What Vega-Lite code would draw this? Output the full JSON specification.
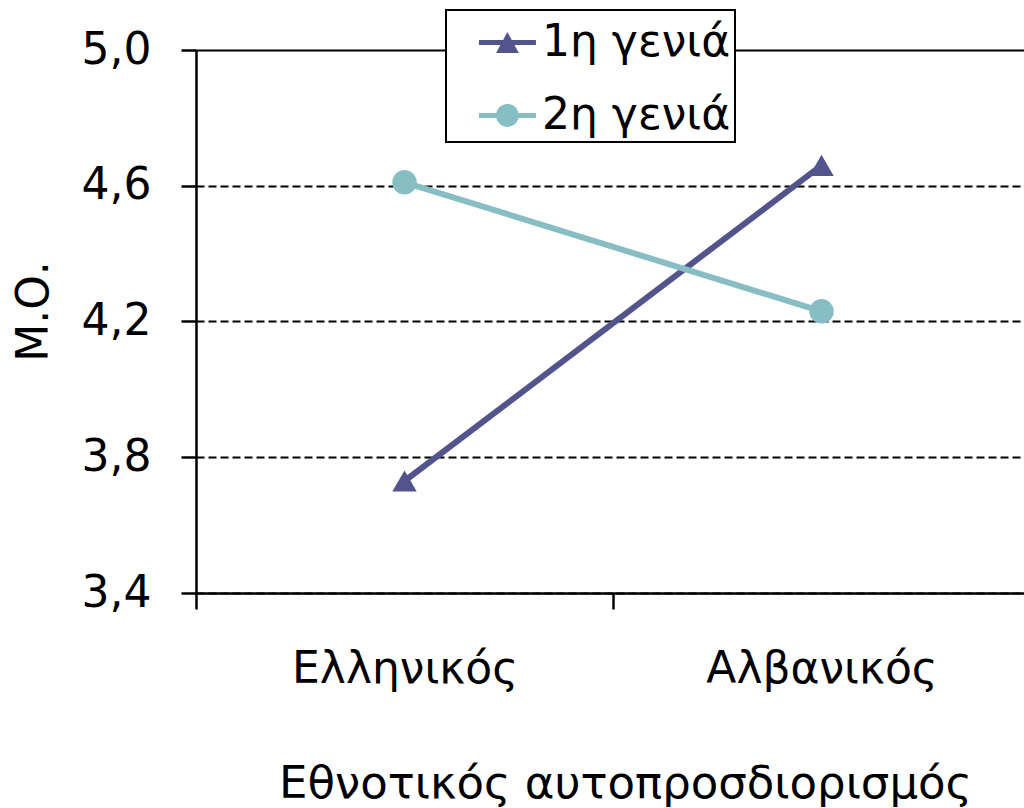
{
  "$schema": "https://vega.github.io/schema/vega-lite/v6.json",
  "width": 828,
  "height": 543,
  "autosize": {"type": "none"},
  "padding": {"left": 196, "top": 50, "right": 0, "bottom": 215},
  "background": "white",
  "config": {"view": {"stroke": null}, "font": "DejaVu Sans"},
  "data": {
    "values": [
      {"ident": "Ελληνικός", "gen": "1η γενιά", "mean": 3.73},
      {"ident": "Αλβανικός", "gen": "1η γενιά", "mean": 4.66},
      {"ident": "Ελληνικός", "gen": "2η γενιά", "mean": 4.61},
      {"ident": "Αλβανικός", "gen": "2η γενιά", "mean": 4.23}
    ]
  },
  "encoding": {
    "x": {
      "field": "ident",
      "type": "nominal",
      "sort": ["Ελληνικός", "Αλβανικός"],
      "scale": {"type": "band", "paddingInner": 0, "paddingOuter": 0, "range": [0, 834]},
      "axis": {
        "title": "Εθνοτικός αυτοπροσδιορισμός",
        "tickBand": "extent",
        "labelAngle": 0,
        "labelFontSize": 44,
        "labelColor": "black",
        "labelPadding": 38,
        "labelLimit": 400,
        "tickSize": 16,
        "tickWidth": 2.5,
        "tickColor": "black",
        "domainColor": "black",
        "domainWidth": 2.5,
        "grid": false,
        "titleFontSize": 45,
        "titleFontWeight": "normal",
        "titleColor": "black",
        "titleLimit": 1000,
        "titleX": 429,
        "titleY": 204,
        "titleAlign": "center",
        "titleBaseline": "alphabetic"
      }
    },
    "y": {
      "field": "mean",
      "type": "quantitative",
      "scale": {"domain": [3.4, 5.0], "nice": false, "zero": false},
      "axis": {
        "title": "Μ.Ο.",
        "values": [3.4, 3.8, 4.2, 4.6, 5.0],
        "labelExpr": "replace(format(datum.value, '.1f'), '.', ',')",
        "labelFontSize": 44,
        "labelColor": "black",
        "labelPadding": 30,
        "tickSize": 15,
        "tickWidth": 2.5,
        "tickColor": "black",
        "domainColor": "black",
        "domainWidth": 2.5,
        "grid": true,
        "gridColor": "black",
        "gridWidth": 2,
        "gridOpacity": 1,
        "gridDash": {"condition": {"test": "datum.value >= 4.99", "value": []}, "value": [8, 4]},
        "titleFontSize": 44,
        "titleFontWeight": "normal",
        "titleColor": "black",
        "titleAngle": -90,
        "titleX": -149,
        "titleY": 261,
        "titleAlign": "center",
        "titleBaseline": "alphabetic"
      }
    },
    "color": {
      "field": "gen",
      "type": "nominal",
      "scale": {"domain": ["1η γενιά", "2η γενιά"], "range": ["#54548C", "#86BEC4"]},
      "legend": {
        "orient": "none",
        "legendX": 250,
        "legendY": -40,
        "title": null,
        "padding": 4,
        "strokeColor": "black",
        "fillColor": "white",
        "labelFontSize": 44,
        "labelColor": "black",
        "labelOffset": 35,
        "labelLimit": 400,
        "symbolSize": 3249,
        "symbolStrokeWidth": 0,
        "rowPadding": 22,
        "encode": {
          "legend": {"update": {"strokeWidth": {"value": 2}}},
          "entries": {"update": {"width": {"value": 304}}},
          "symbols": {
            "update": {
              "shape": {"signal": "datum.value === '1η γενιά' ? 'M0.015,-0.088H2.015V0.088H0.015Z M0.615,0.37L1.015,-0.37L1.415,0.37Z' : 'M0.015,-0.088H2.015V0.088H0.015Z M0.615,0A0.4,0.4 0 1,1 1.415,0A0.4,0.4 0 1,1 0.615,0Z'"},
              "fill": {"signal": "scale('color', datum.value)"},
              "strokeWidth": {"value": 0},
              "opacity": {"value": 1}
            }
          }
        }
      }
    }
  },
  "layer": [
    {"mark": {"type": "line", "strokeWidth": 6}},
    {
      "transform": [{"filter": "datum.gen === '1η γενιά'"}],
      "mark": {"type": "point", "filled": true, "size": 600, "opacity": 1, "shape": "triangle-up"}
    },
    {
      "transform": [{"filter": "datum.gen === '2η γενιά'"}],
      "mark": {"type": "point", "filled": true, "size": 600, "opacity": 1, "shape": "circle"}
    }
  ]
}
